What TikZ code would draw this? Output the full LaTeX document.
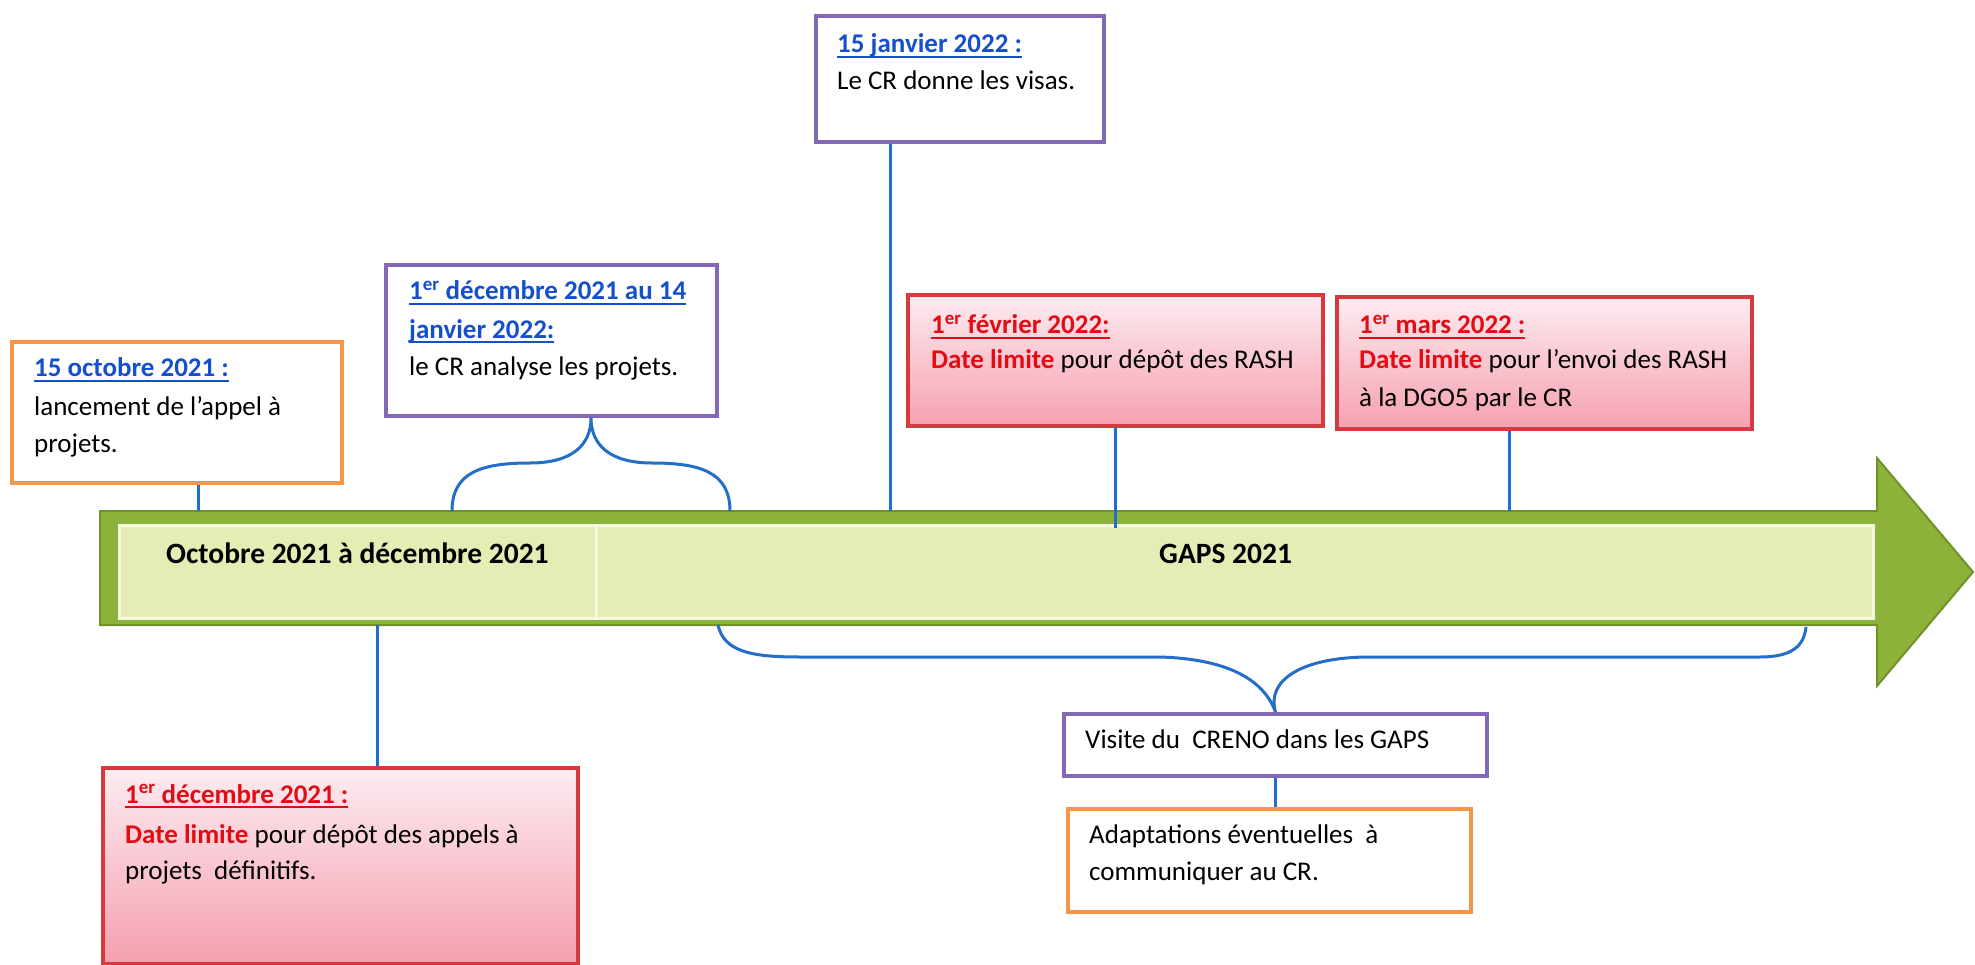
\documentclass[tikz,border=0pt]{standalone}
\usepackage{fontspec}
\setmainfont{Carlito}
\definecolor{blueT}{RGB}{20,80,205}
\definecolor{redT}{RGB}{228,12,20}
\definecolor{purpleB}{RGB}{132,104,184}
\definecolor{orangeB}{RGB}{247,150,70}
\definecolor{redB}{RGB}{214,58,62}
\definecolor{pinkTop}{RGB}{253,236,241}
\definecolor{pinkBot}{RGB}{245,160,176}
\definecolor{connC}{RGB}{35,110,200}
\definecolor{greenO}{RGB}{141,178,58}
\definecolor{greenD}{RGB}{112,146,40}
\definecolor{greenI}{RGB}{227,237,180}
\newcommand\myul[1]{\setbox0\hbox{#1}\rlap{\raisebox{-5pt}{\rule{\wd0}{2pt}}}\box0}
\tikzset{
  txt/.style={inner sep=0pt, anchor=base west, font=\fontsize{27}{37}\selectfont},
  lbl/.style={inner sep=0pt, anchor=base west, font=\fontsize{29.5}{37}\selectfont\bfseries},
  boxbase/.style={line width=4pt, inner sep=0pt, anchor=north west},
  pbox/.style={boxbase, draw=purpleB, fill=white},
  obox/.style={boxbase, draw=orangeB, fill=white},
  rbox/.style={boxbase, draw=redB, top color=pinkTop, bottom color=pinkBot},
  conn/.style={draw=connC, line width=3pt},
  panel/.style={draw=white!60!greenI, line width=2.5pt, fill=greenI, inner sep=0pt, anchor=north west},
}
\begin{document}
\begin{tikzpicture}[x=1pt,y=-1pt]
\useasboundingbox (0,0) rectangle (1975,965);
% arrow
\fill[greenO, draw=greenD, line width=2pt, line join=miter]
  (100,511) -- (1877,511) -- (1877,458) -- (1973,572) -- (1877,686) -- (1877,625) -- (100,625) -- cycle;
\node[panel, minimum width=477, minimum height=93] (panelL) at (118,524) {};
\node[panel, minimum width=1277, minimum height=93] (panelR) at (595,524) {};
\coordinate (shaftTop) at (0,511);
\coordinate (shaftBot) at (0,625);
\node[lbl] (lblL) at (166,563) {Octobre 2021 à décembre 2021};
\node[lbl] (lblR) at (1159,563) {GAPS 2021};

% boxes
\node[obox, minimum width=330, minimum height=141] (A) at (10,340) {};
\node[pbox, minimum width=331, minimum height=151] (B) at (384,263) {};
\node[pbox, minimum width=288, minimum height=126] (C) at (814,14) {};
\node[rbox, minimum width=415, minimum height=131] (D) at (906,293) {};
\node[rbox, minimum width=415, minimum height=132] (E) at (1335,295) {};
\node[rbox, minimum width=475, minimum height=196] (F) at (101,766) {};
\node[pbox, minimum width=423, minimum height=62] (G) at (1062,712) {};
\node[obox, minimum width=403, minimum height=103] (H) at (1066,807) {};

% texts
\node[txt, text=blueT, font=\fontsize{27}{37}\selectfont\bfseries] (A1) at (34,377) {\myul{15 octobre 2021 :}};
\node[txt] (A2) at (34,415) {lancement de l’appel à};
\node[txt] (A3) at (34,452) {projets.};

\node[txt, text=blueT, font=\fontsize{27}{37}\selectfont\bfseries] (B1) at (409,300) {\myul{1\textsuperscript{er} décembre 2021 au 14}};
\node[txt, text=blueT, font=\fontsize{27}{37}\selectfont\bfseries] (B2) at (409,338) {\myul{janvier 2022:}};
\node[txt] (B3) at (409,375) {le CR analyse les projets.};

\node[txt, text=blueT, font=\fontsize{27}{37}\selectfont\bfseries] (C1) at (837,53) {\myul{15 janvier 2022 :}};
\node[txt] (C2) at (837,90) {Le CR donne les visas.};

\node[txt, text=redT, font=\fontsize{27}{37}\selectfont\bfseries] (D1) at (931,334) {\myul{1\textsuperscript{er} février 2022:}};
\node[txt] (D2) at (931,369) {\textcolor{redT}{\bfseries Date limite} pour dépôt des RASH};

\node[txt, text=redT, font=\fontsize{27}{37}\selectfont\bfseries] (E1) at (1359,334) {\myul{1\textsuperscript{er} mars 2022 :}};
\node[txt] (E2) at (1359,369) {\textcolor{redT}{\bfseries Date limite} pour l’envoi des RASH};
\node[txt] (E3) at (1359,406) {à la DGO5 par le CR};

\node[txt, text=redT, font=\fontsize{27}{37}\selectfont\bfseries] (F1) at (125,803) {\myul{1\textsuperscript{er} décembre 2021 :}};
\node[txt] (F2) at (125,843) {\textcolor{redT}{\bfseries Date limite} pour dépôt des appels à};
\node[txt] (F3) at (125,879) {projets\ \ définitifs.};

\node[txt] (G1) at (1085,748) {Visite du\ \ CRENO dans les GAPS};
\node[txt] (H1) at (1089,843) {Adaptations éventuelles\ \ à};
\node[txt] (H2) at (1089,880) {communiquer au CR.};

% connectors
\coordinate (cA) at (198,0);
\coordinate (cF) at (377,0);
\coordinate (cC) at (890,0);
\coordinate (cD) at (1115,0);
\coordinate (cE) at (1509,0);
\coordinate (dEnd) at (1115,528);
\draw[conn] (A.south -| cA) -- (cA |- shaftTop);
\draw[conn] (cF |- shaftBot) -- (F.north -| cF);
\draw[conn] (C.south -| cC) -- (cC |- shaftTop);
\draw[conn] (D.south -| cD) -- (dEnd);
\draw[conn] (E.south -| cE) -- (cE |- shaftTop);
\draw[conn] (G.south) -- (H.north -| G.south);

% braces
\coordinate (bL) at (452,511);
\coordinate (bR) at (730,511);
\draw[conn] (bL) .. controls (452,472) and (482,463) .. (530,463)
  .. controls (572,463) and (591,445) .. (B.south -| 591,0)
  .. controls (591,445) and (610,463) .. (652,463)
  .. controls (700,463) and (730,472) .. (bR);
\coordinate (gL) at (718,625);
\coordinate (gR) at (1806,627);
\draw[conn] (gL) .. controls (724,652) and (752,657) .. (800,657)
  -- (1160,657) .. controls (1228,659) and (1264,680) .. (G.north)
  .. controls (1266,680) and (1302,657) .. (1370,657)
  -- (1760,657) .. controls (1792,657) and (1804,646) .. (gR);
\end{tikzpicture}
\end{document}
